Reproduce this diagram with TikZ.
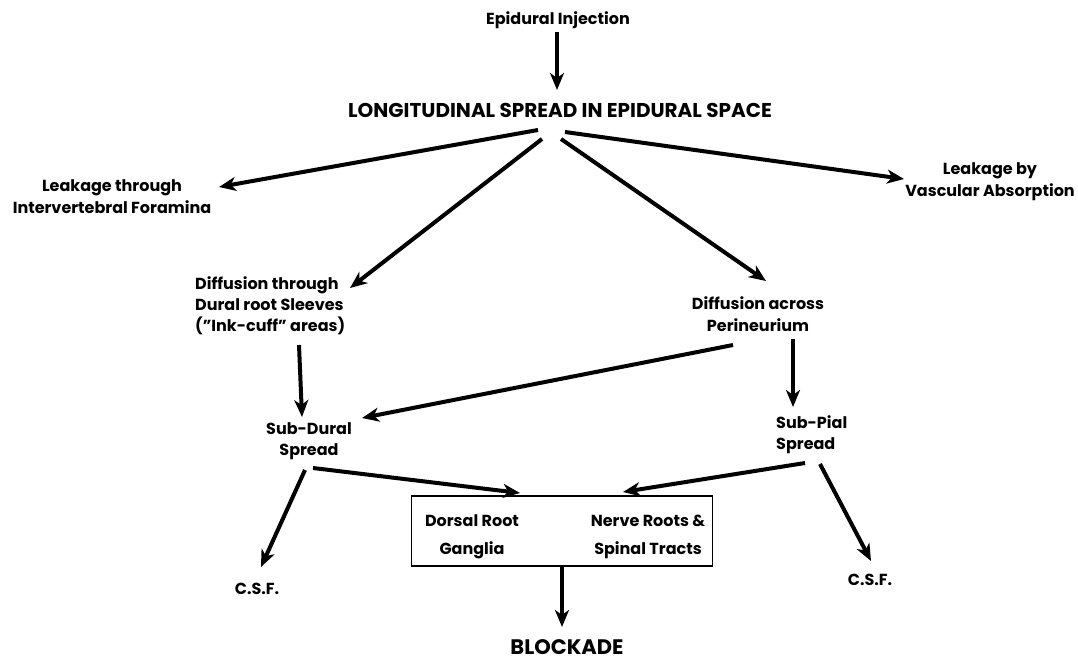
\documentclass[tikz,border=0pt]{standalone}
\usepackage{fontspec}
\setmainfont{Poppins}
\usetikzlibrary{arrows.meta}

\begin{document}
\begin{tikzpicture}[x=1pt,y=-1pt,
  every node/.style={font=\fontsize{16}{22}\selectfont\bfseries,inner sep=0pt},
  arr/.style={line width=4pt,-{Stealth[length=17pt,width=14pt,inset=5pt]}}]
\useasboundingbox (0,0) rectangle (1078,661);
\node (inj) at (558,20) {Epidural Injection};
\node[font=\fontsize{20}{24}\selectfont\bfseries] (long) at (560,110) {LONGITUDINAL SPREAD IN EPIDURAL SPACE};
\node[align=center] (leakL) at (112,197) {Leakage through\\Intervertebral Foramina};
\node[align=center] (leakV) at (990,182) {Leakage by\\Vascular Absorption};
\node[align=left,anchor=west,font=\fontsize{16}{21}\selectfont\bfseries] (dural) at (195,306) {Diffusion through\\Dural root Sleeves\\("Ink-cuff" areas)};
\node[align=center] (peri) at (758,314) {Diffusion across\\Perineurium};
\node[align=center,font=\fontsize{16}{21}\selectfont\bfseries] (subD) at (309,441) {Sub-Dural\\Spread};
\node[align=left,anchor=west,font=\fontsize{16}{21}\selectfont\bfseries] (subP) at (776,435) {Sub-Pial\\Spread};
\node[draw,line width=1.5pt,minimum width=301pt,minimum height=70pt] (box) at (562,531) {};
\node[align=center,font=\fontsize{16}{28}\selectfont\bfseries] (dorsal) at (472,537) {Dorsal Root\\Ganglia};
\node[align=center,font=\fontsize{16}{28}\selectfont\bfseries] (nerve) at (648,537) {Nerve Roots \&\\Spinal Tracts};
\node[font=\fontsize{21}{24}\selectfont\bfseries,anchor=base] (blk) at (567,654) {BLOCKADE};
\node (csfL) at (257,589) {C.S.F.};
\node (csfR) at (870,580) {C.S.F.};
\draw[arr] ([shift={(-1,12)}]inj.center) -- ([shift={(-3,-20)}]long.center);
\draw[arr] ([shift={(-22,20)}]long.center) -- ([shift={(107,-10)}]leakL.center);
\draw[arr] ([shift={(5,22)}]long.center) -- ([shift={(-86,-3)}]leakV.center);
\draw[arr] ([shift={(-18,29)}]long.center) -- ([shift={(155,-18)}]dural.west);
\draw[arr] ([shift={(1,29)}]long.center) -- ([shift={(8,-33)}]peri.center);
\draw[arr] ([shift={(104,39)}]dural.west) -- ([shift={(-7,-24)}]subD.center);
\draw[arr] ([shift={(-25,31)}]peri.center) -- ([shift={(53,-23)}]subD.center);
\draw[arr] ([shift={(35,25)}]peri.center) -- ([shift={(17,-28)}]subP.west);
\draw[arr] ([shift={(4,27)}]subD.center) -- ([shift={(-42,-38)}]box.center);
\draw[arr] ([shift={(29,28)}]subP.west) -- ([shift={(61,-39)}]box.center);
\draw[arr] ([shift={(-4,29)}]subD.center) -- ([shift={(4,-22)}]csfL.center);
\draw[arr] ([shift={(44,29)}]subP.west) -- ([shift={(1,-19)}]csfR.center);
\draw[arr] (box.south) -- ([shift={(-5,-27)}]blk.base);
\end{tikzpicture}
\end{document}
